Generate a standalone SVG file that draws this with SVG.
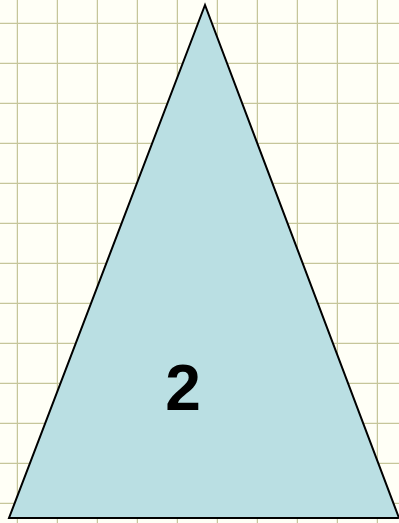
<svg xmlns="http://www.w3.org/2000/svg" width="399" height="523" viewBox="0 0 399 523">
<defs>
<pattern id="grid" x="-22" y="-16" width="40" height="40" patternUnits="userSpaceOnUse">
<path d="M40 0V40M0 40H40" fill="none" stroke="#c6c69a" stroke-width="2.5"/>
</pattern>
</defs>
<style>
.lbl{font-family:"Liberation Sans",Arial,sans-serif;font-weight:bold;font-size:64px;fill:#000}
</style>
<rect width="399" height="523" fill="#fffff6"/>
<rect width="399" height="523" fill="url(#grid)"/>
<g id="triangle">
<polygon points="205,5 9,518 399,518" fill="#badfe3" stroke="#000" stroke-width="2"/>
<text class="lbl" x="183" y="410" text-anchor="middle">2</text>
</g>
</svg>
